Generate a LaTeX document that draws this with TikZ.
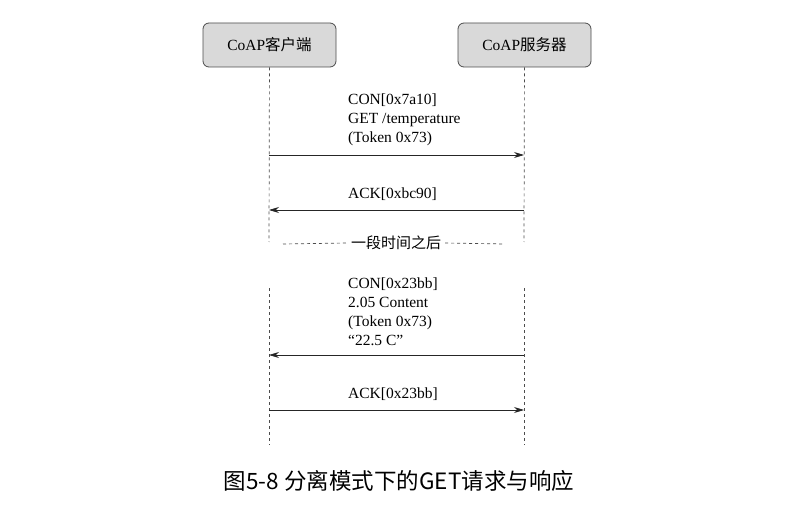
\documentclass[tikz,border=0pt]{standalone}
\usepackage{fontspec}
\setmainfont{Liberation Serif}
\newfontfamily\cjk{Noto Sans CJK SC}
\usetikzlibrary{arrows.meta}
\begin{document}
\begin{tikzpicture}[x=1pt,y=-1pt,
  actor/.style={draw=black!70,fill=black!15,rounded corners=6pt,minimum width=133pt,minimum height=44pt,font=\fontsize{15.5}{18}\selectfont,line width=0.8pt},
  life/.style={dashed,black!70,line width=0.7pt},
  msg/.style={-{Stealth[length=10pt,width=6pt]},line width=0.8pt,black!85},
  lbl/.style={anchor=south west,align=left,font=\fontsize{15.5}{19}\selectfont,inner sep=1pt}]
\useasboundingbox (0,0) rectangle (798,513);
\node[actor] (c) at (269.5,45) {CoAP{\cjk 客户端}};
\node[actor] (s) at (524.5,45) {CoAP{\cjk 服务器}};
\coordinate (c1) at (269,242); \coordinate (s1) at (524,242);
\coordinate (c2) at (269,288); \coordinate (s2) at (524,288);
\coordinate (c3) at (269,445); \coordinate (s3) at (524,445);
\draw[life] (c) -- (c1); \draw[life] (s) -- (s1);
\draw[life] (c2) -- (c3); \draw[life] (s2) -- (s3);
\coordinate (a1c) at (269,155); \coordinate (a1s) at (524,155);
\coordinate (a2c) at (269,210); \coordinate (a2s) at (524,210);
\coordinate (a3c) at (269,355); \coordinate (a3s) at (524,355);
\coordinate (a4c) at (269,410); \coordinate (a4s) at (524,410);
\draw[msg] (a1c) -- (a1s);
\draw[msg] (a2s) -- (a2c);
\draw[msg] (a3s) -- (a3c);
\draw[msg] (a4c) -- (a4s);
\node[lbl] (l1) at (347,147) {CON[0x7a10]\\GET /temperature\\(Token 0x73)};
\node[lbl] (l2) at (347,202) {ACK[0xbc90]};
\node[lbl] (l3) at (347,347) {CON[0x23bb]\\2.05 Content\\(Token 0x73)\\“22.5 C”};
\node[lbl] (l4) at (347,402) {ACK[0x23bb]};
\node[font=\cjk\fontsize{15}{17}\selectfont,fill=white,inner sep=4pt] (t) at (396,243) {一段时间之后};
\coordinate (d1) at (283,244); \coordinate (d2) at (505,244);
\draw[life] (d1) -- (t.west); \draw[life] (t.east) -- (d2);
\node[font=\cjk\fontsize{22.5}{25}\selectfont] (cap) at (399,481) {图5-8 分离模式下的GET请求与响应};
\end{tikzpicture}
\end{document}
